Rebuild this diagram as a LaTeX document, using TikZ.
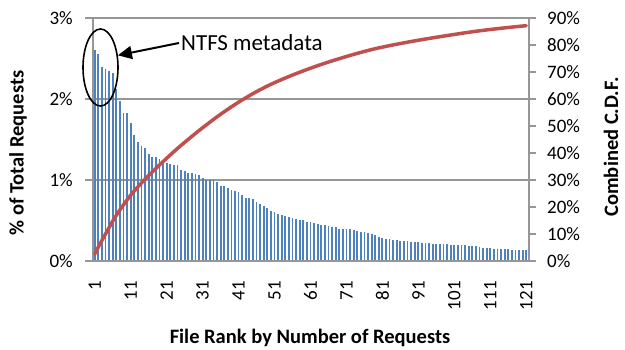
\documentclass[tikz,border=0pt]{standalone}
\usepackage{fontspec}
\setmainfont{Carlito}
\usetikzlibrary{arrows.meta,shapes.geometric}

\definecolor{barblue}{RGB}{79,129,189}
\definecolor{cdfred}{RGB}{192,80,77}
\definecolor{gridgray}{RGB}{150,150,150}

\begin{document}
\begin{tikzpicture}[
   x=1pt, y=-1pt,
   grid/.style={draw=gridgray, line width=1.2pt},
   bar/.style={draw=barblue, line width=1.8pt},
   cdf/.style={draw=cdfred, line width=3.5pt, line join=round, line cap=round},
   lbl/.style={font=\fontsize{19}{22}\selectfont, inner sep=1pt},
   title/.style={font=\fontsize{20.5}{24}\selectfont\bfseries, inner sep=0pt},
   ann/.style={font=\fontsize{23}{26}\selectfont, inner sep=2pt},
   meta/.style={ellipse, draw, line width=1.6pt, minimum width=35pt, minimum height=77pt, inner sep=0pt},
   pointer/.style={-{Triangle[length=14pt,width=13pt]}, line width=2pt}
]
\useasboundingbox (0,0) rectangle (625,350);

% gridlines and left ticks
\foreach \p in {1,2,3}
  \draw[grid] (85,{261-81*\p}) -- (529,{261-81*\p});

% bars, with the running total for the C.D.F.
\def\cumtot{0}
\def\cdfpath{}
\foreach \v [count=\k] in {2.60,2.55,2.40,2.37,2.35,2.32,2.12,1.98,1.83,1.83,
  1.70,1.55,1.47,1.42,1.40,1.32,1.29,1.29,1.26,1.24,
  1.21,1.20,1.19,1.18,1.12,1.11,1.09,1.085,1.07,1.06,
  1.03,1.00,1.00,1.00,0.975,0.93,0.92,0.90,0.88,0.865,
  0.85,0.81,0.78,0.775,0.76,0.73,0.70,0.68,0.66,0.62,
  0.605,0.58,0.57,0.555,0.545,0.53,0.52,0.505,0.50,0.485,
  0.48,0.47,0.46,0.45,0.44,0.43,0.42,0.415,0.40,0.40,
  0.39,0.39,0.38,0.37,0.36,0.355,0.34,0.33,0.32,0.30,
  0.28,0.27,0.27,0.26,0.26,0.25,0.247,0.245,0.24,0.235,
  0.23,0.225,0.22,0.22,0.215,0.21,0.21,0.21,0.205,0.20,
  0.20,0.20,0.20,0.20,0.19,0.185,0.18,0.17,0.165,0.16,
  0.16,0.15,0.145,0.145,0.145,0.145,0.14,0.13,0.13,0.13,0.13} {
  \pgfmathsetmacro{\bx}{93+(\k-0.5)*3.595}
  \pgfmathsetmacro{\by}{261-81*\v}
  \draw[bar] (\bx,261) -- (\bx,\by);
  \pgfmathsetmacro{\cum}{\cumtot+\v}
  \xdef\cumtot{\cum}
  \pgfmathsetmacro{\cy}{261-2.7*1.015*\cum}
  \xdef\cdfpath{\cdfpath (\bx,\cy)}
}

% axes
\draw[grid] (85,261) -- (529,261);
\draw[grid] (93,18) -- (93,261);
\draw[grid] (529,18) -- (529,261);
\foreach \p in {0,10,...,90}
  \draw[grid] (529,{261-2.7*\p}) -- (536,{261-2.7*\p});

% combined C.D.F.
\draw[cdf] plot coordinates {\cdfpath};

% tick labels
\foreach \p in {0,1,2,3}
  \node[lbl, anchor=east] (l\p) at (74,{261-81*\p}) {\p\%};
\foreach \p in {0,10,...,90}
  \node[lbl, anchor=west] (r\p) at (546,{261-2.7*\p}) {\p\%};
\foreach \k in {1,11,...,121}
  \node[lbl, rotate=90, anchor=east] (c\k) at ({93+(\k-0.5)*3.595},280) {\k};

% axis titles
\node[title] (xtitle) at (310,338) {File Rank by Number of Requests};
\node[title, rotate=90] (ltitle) at (18,153) {\% of Total Requests};
\node[title, rotate=90] (rtitle) at (611,147) {Combined C.D.F.};

% metadata callout
\node[meta] (meta) at (100.5,67.5) {};
\node[ann, anchor=west] (ntfs) at (179,43) {NTFS metadata};
\draw[pointer] (ntfs.west) -- (meta.35);

\end{tikzpicture}
\end{document}
